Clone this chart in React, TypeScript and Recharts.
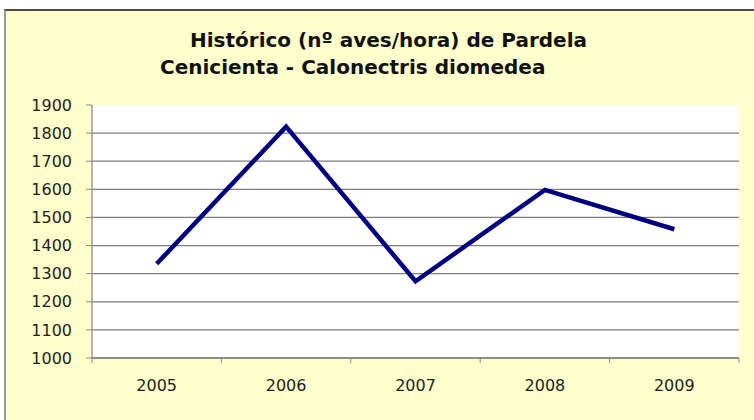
// @ts-nocheck
import React from "react";
import { LineChart, Line, XAxis, YAxis, CartesianGrid } from "recharts";

const years = ["2005", "2006", "2007", "2008", "2009"];
const birdsPerHour = [1335, 1823, 1273, 1598, 1458];
const yTicks = [1000, 1100, 1200, 1300, 1400, 1500, 1600, 1700, 1800, 1900];
const titleLines = [
  "Histórico (nº aves/hora) de Pardela",
  "Cenicienta - Calonectris diomedea",
];

const data = years.map((year, i) => ({ year, value: birdsPerHour[i] }));

const AXIS_GREY = "#8a8a8a";
const LABEL_FONT = "'DejaVu Sans', sans-serif";

// Excel style: tick marks sit between categories, labels in the middle
function YearTick({ x, y, payload, index, visibleTicksCount }) {
  const half = payload.offset || 64.7;
  const last = index === visibleTicksCount - 1;
  return (
    <g>
      <line x1={x - half} x2={x - half} y1={y} y2={y + 5} stroke={AXIS_GREY} />
      {last && <line x1={x + half} x2={x + half} y1={y} y2={y + 5} stroke={AXIS_GREY} />}
      <text
        x={x}
        y={y + 33}
        textAnchor="middle"
        fontFamily={LABEL_FONT}
        fontSize={16}
        fill="#1e1e1e"
      >
        {payload.value}
      </text>
    </g>
  );
}

function GridLine(props) {
  // no grid line along the top edge of the plot
  if (Math.abs(props.y1 - props.y) < 0.5) return <g />;
  return <line x1={props.x1} x2={props.x2} y1={props.y1} y2={props.y2} stroke="#7d7d7d" strokeWidth={1.3} />;
}

export default function App() {
  return (
    <div style={{ position: "absolute", left: 0, top: 0, width: 754, height: 420, background: "#fff", overflow: "hidden" }}>
      <div
        style={{
          position: "absolute",
          left: 4,
          top: 9,
          width: 760,
          height: 420,
          background: "#ffffcc",
          borderTop: "2px solid #4a4a40",
          borderLeft: "2px solid #9a9a9a",
        }}
      />
      <LineChart
        width={754}
        height={420}
        data={data}
        margin={{ top: 105, right: 15, bottom: 22, left: 0 }}
        style={{ position: "absolute", left: 0, top: 0 }}
      >
        <CartesianGrid vertical={false} fill="#ffffff" horizontal={GridLine} />
        <XAxis
          dataKey="year"
          scale="band"
          height={40}
          tickSize={0}
          tickMargin={0}
          tickLine={false}
          axisLine={{ stroke: AXIS_GREY, strokeWidth: 1.3 }}
          tick={<YearTick />}
          interval={0}
        />
        <YAxis
          width={92}
          domain={[1000, 1900]}
          ticks={yTicks}
          interval={0}
          tickSize={6}
          tickMargin={14}
          axisLine={{ stroke: AXIS_GREY, strokeWidth: 1.3 }}
          tickLine={{ stroke: AXIS_GREY }}
          tick={{ fontFamily: LABEL_FONT, fontSize: 16, fill: "#1e1e1e" }}
        />
        <Line
          dataKey="value"
          stroke="#000080"
          strokeWidth={4.5}
          dot={false}
          activeDot={false}
          isAnimationActive={false}
        />
      </LineChart>
      <svg width={754} height={90} style={{ position: "absolute", left: 0, top: 0 }}>
        <text x={190} y={47} fontFamily={LABEL_FONT} fontWeight="bold" fontSize={20} fill="#111">
          {titleLines[0]}
        </text>
        <text x={160} y={74} fontFamily={LABEL_FONT} fontWeight="bold" fontSize={20} fill="#111">
          {titleLines[1]}
        </text>
      </svg>
    </div>
  );
}
